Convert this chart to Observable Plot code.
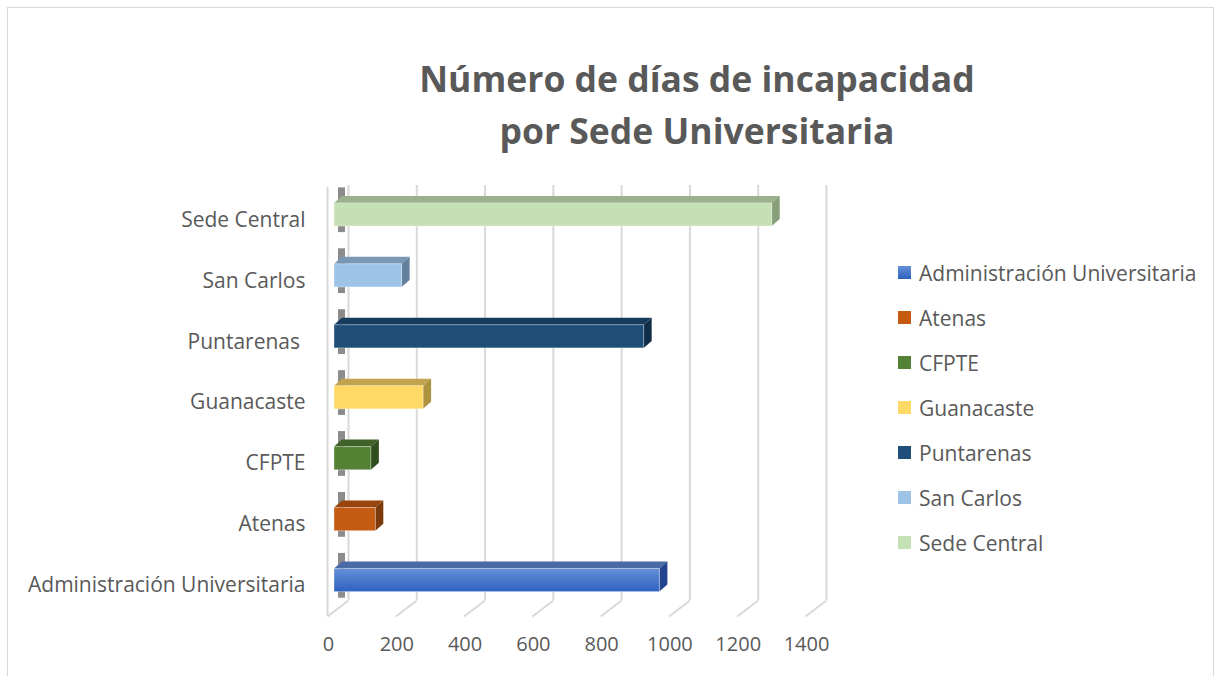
<!DOCTYPE html>
<html><head><meta charset="utf-8">
<script src="https://cdn.jsdelivr.net/npm/d3@7"></script>
<script src="https://cdn.jsdelivr.net/npm/@observablehq/plot@0.6"></script>
<style>
body{margin:0;background:#fff;font-family:"Open Sans",sans-serif;}
#wrap{position:relative;width:1218px;height:676px;overflow:hidden;background:#fff;}
#border{position:absolute;left:7px;top:7px;width:1205px;height:720px;border:1px solid #d9d9d9;}
#title{position:absolute;left:197px;width:1000px;top:52px;text-align:center;font-weight:700;font-size:35.5px;line-height:52px;color:#595959;}
#chart{position:absolute;left:0;top:160px;}
#chart svg text{white-space:pre;}
#legend{position:absolute;left:898px;top:250px;}
.item{display:flex;align-items:center;height:45px;font-size:21px;color:#595959;}
.sw{width:13px;height:13px;margin-right:8px;flex:none;}
</style>
</head><body>
<div id="wrap">
<div id="border"></div>
<div id="title">Número de días de incapacidad<br>por Sede Universitaria</div>
<div id="chart"></div>
<div id="legend"></div>
</div>
<script>
// Data (bottom to top)
const categories = ["Administración Universitaria","Atenas","CFPTE","Guanacaste","Puntarenas ","San Carlos","Sede Central"];
const dias = [953, 121, 108, 261, 907, 198, 1282];
const frontColors = ["url(#gAdmin)","#c55a11","#548235","#ffd966","#1f4e79","#9dc3e6","#c5e0b4"];
const topColors   = ["#4a6aa6","#97450e","#3f6228","#c1a44d","#173b5c","#7a97b6","#9cb08e"];
const sideColors  = ["#23458f","#7d3a0b","#314e1f","#ad933f","#112d47","#647f9e","#87a07a"];
const legendColors = ["linear-gradient(#6590d8,#2e62c0)","#c55a11","#548235","#ffd966","#1f4e79","#9dc3e6","#c5e0b4"];
const xTicks = [0,200,400,600,800,1000,1200,1400];

// geometry helpers (pixel -> data units)
const W = 880, H = 500, mL = 334, mR = 68, mT = 24, mB = 49.5;
const xDomain = [0,1400], yDomain = [-0.5, 6.5];
const pxX = (W - mL - mR) / (xDomain[1]-xDomain[0]);
const pxY = (H - mT - mB) / (yDomain[1]-yDomain[0]);
const DX = 8 / pxX, DY = 7 / pxY;          // bar depth
const BACK = 14 / pxX, FRONT = -7 / pxX;   // wall / floor depth
const yBackTop = 6.5 - 1/pxY, yBackBot = 6.5 - 416/pxY, yFront = 6.5 - 432/pxY;
const hb = 0.19;

const rows = categories.map((c,i)=>({c, i, v: dias[i], f: frontColors[i], t: topColors[i], s: sideColors[i]}));
const topFaces = rows.flatMap(r=>[
  {c:r.c, y:r.i+hb, x1:0, x2:r.v, col:r.t},
  {c:r.c, y:r.i+hb+DY, x1:DX, x2:r.v+DX, col:r.t}
]);
const sideFaces = rows.flatMap(r=>[
  {c:r.c, y:r.i-hb, x1:r.v, x2:r.v, col:r.s},
  {c:r.c, y:r.i-hb+DY, x1:r.v, x2:r.v+DX, col:r.s},
  {c:r.c, y:r.i+hb, x1:r.v, x2:r.v+DX, col:r.s},
  {c:r.c, y:r.i+hb+DY, x1:r.v+DX, x2:r.v+DX, col:r.s}
]);

const plot = Plot.plot({
  width: W, height: H,
  marginLeft: mL, marginRight: mR, marginTop: mT, marginBottom: mB,
  x: {domain: xDomain, label: null},
  y: {domain: yDomain, label: null},
  color: {type: "identity"},
  style: {fontFamily: "'Open Sans', sans-serif", fontSize: "20px", color: "#595959", background: "transparent", overflow: "visible"},
  marks: [
    // back wall gridlines
    Plot.ruleX(xTicks, {x: d=>d+BACK, y1: yBackBot, y2: yBackTop, stroke: "#d9d9d9", strokeWidth: 2}),
    // floor diagonals
    Plot.link(xTicks, {x1: d=>d+BACK, y1: yBackBot, x2: d=>d+FRONT, y2: yFront, stroke: "#d9d9d9", strokeWidth: 2}),
    // left wall front edge
    Plot.ruleX([0], {x: FRONT, y1: yFront, y2: yBackTop - 0.03, stroke: "#d9d9d9", strokeWidth: 2}),
    // wall shadows of the bars
    Plot.rectX(rows, {x1: 4/pxX, x2: 11/pxX, y1: r=>r.i-hb-0.1, y2: r=>r.i+hb+DY+0.14, fill: "#404040", fillOpacity: 0.6, ariaLabel: "shadow"}),
    // bar depth faces
    Plot.areaX(topFaces, {y: "y", x1: "x1", x2: "x2", z: "c", fill: "col"}),
    Plot.areaX(sideFaces, {y: "y", x1: "x1", x2: "x2", z: "c", fill: "col"}),
    // bar fronts
    Plot.rectX(rows, {x1: 0, x2: "v", y1: r=>r.i-hb, y2: r=>r.i+hb, fill: "f", stroke: "#ffffff", strokeOpacity: 0.35, strokeWidth: 1}),
    Plot.axisX(xTicks, {tickSize: 0, tickPadding: 26, dx: -6, fontSize: 20, fill: "#595959", tickFormat: d=>String(d), label: null}),
    Plot.axisY(d3.range(categories.length), {tickSize: 0, tickPadding: 29, dy: 5, tickFormat: i=>categories[i], fontSize: 21, fill: "#595959", label: null})
  ]
});

const svg = d3.select(plot);
const defs = svg.insert("defs", ":first-child");
const g = defs.append("linearGradient").attr("id","gAdmin").attr("x1",0).attr("y1",0).attr("x2",0).attr("y2",1);
g.append("stop").attr("offset","0%").attr("stop-color","#6590d8");
g.append("stop").attr("offset","100%").attr("stop-color","#2e62c0");
const blur = defs.append("filter").attr("id","blurShadow").attr("x","-200%").attr("y","-50%").attr("width","500%").attr("height","200%");
blur.append("feGaussianBlur").attr("stdDeviation", 2.2);
svg.selectAll('g[aria-label="shadow"]').attr("filter","url(#blurShadow)");
document.getElementById("chart").appendChild(plot);

const legend = d3.select("#legend");
categories.forEach((c,i)=>{
  const it = legend.append("div").attr("class","item");
  it.append("div").attr("class","sw").style("background", legendColors[i]);
  it.append("span").text(c.trim());
});
</script>
</body></html>
